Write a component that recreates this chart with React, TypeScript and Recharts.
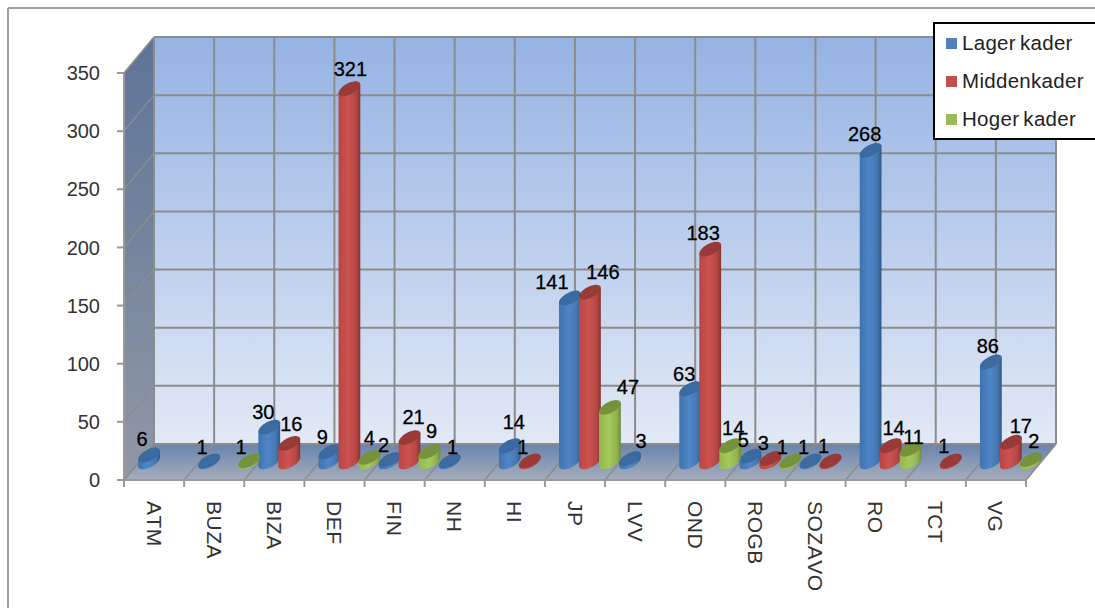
import { BarChart, Bar, XAxis, YAxis, Legend, LabelList } from 'recharts'

const categories = ['ATM', 'BUZA', 'BIZA', 'DEF', 'FIN', 'NH', 'HI', 'JP', 'LVV', 'OND', 'ROGB', 'SOZAVO', 'RO', 'TCT', 'VG']
const lagerKader = [6, 1, 30, 9, 2, 1, 14, 141, 3, 63, 5, 1, 268, null, 86]
const middenKader = [null, null, 16, 321, 21, null, 1, 146, null, 183, 3, 1, 14, 1, 17]
const hogerKader = [null, 1, null, 4, 9, null, null, 47, null, 14, 1, null, 11, null, 2]
const yTicks = [0, 50, 100, 150, 200, 250, 300, 350]

const chartData = categories.map((name, i) => ({
  name,
  'Lager kader': lagerKader[i],
  Middenkader: middenKader[i],
  'Hoger kader': hogerKader[i],
}))

// hand placed data labels, excel moved these around to avoid overlaps
const lagerNudge = [[-7, 0], [-7, 2], [-6, 1], [-7, 1], [-6, 1], [3, 2], [4, -8], [-18, 0], [11, -2], [-6, 1], [-7, 0], [-7, 2], [-6, 0], [0, 0], [-3, 0]]
const middenNudge = [[0, 0], [0, 0], [2, -3], [1, -4], [4, -5], [0, 0], [-7, 2], [13, -4], [0, 0], [-7, 0], [-7, 0], [-7, 1], [3, -2], [-7, 1], [10, 0]]
const hogerNudge = [[0, 0], [-8, 2], [0, 0], [0, -3], [2, -5], [0, 0], [0, 0], [18, -4], [0, 0], [3, -2], [-8, 2], [0, 0], [3, 4], [0, 0], [3, -3]]

const WIDTH = 1095
const HEIGHT = 608
const LEFT = 124
const TOP = 73
const RIGHT = 1026
const BOTTOM = 480
const DEPTH_X = 30
const DEPTH_Y = 36
const FONT = '"Liberation Sans", Arial, sans-serif'
const GRID = '#8c8c8c'

const yOf = (v: number) => BOTTOM - (v / 350) * (BOTTOM - TOP)
const step = (RIGHT - LEFT) / categories.length

function Backdrop() {
  const columns = [...categories.map((_, i) => i), categories.length]
  return (
    <g>
      <defs>
        <linearGradient id="backWall" x1="0" y1="0" x2="0" y2="1">
          <stop offset="0%" stopColor="#95b3e3" />
          <stop offset="100%" stopColor="#e2e9f6" />
        </linearGradient>
        <linearGradient id="sideWall" x1="0" y1="0" x2="0" y2="1">
          <stop offset="0%" stopColor="#5d7397" />
          <stop offset="100%" stopColor="#9198a6" />
        </linearGradient>
        <linearGradient id="floor" x1="0" y1="0" x2="0" y2="1">
          <stop offset="0%" stopColor="#6884ae" />
          <stop offset="100%" stopColor="#a6adbb" />
        </linearGradient>
        <linearGradient id="body-blue" x1="0" y1="0" x2="1" y2="0">
          <stop offset="0%" stopColor="#3f73ae" />
          <stop offset="45%" stopColor="#4f86c8" />
          <stop offset="80%" stopColor="#4677b0" />
          <stop offset="100%" stopColor="#2f5988" />
        </linearGradient>
        <linearGradient id="body-red" x1="0" y1="0" x2="1" y2="0">
          <stop offset="0%" stopColor="#b84644" />
          <stop offset="45%" stopColor="#cc5350" />
          <stop offset="80%" stopColor="#b64745" />
          <stop offset="100%" stopColor="#853331" />
        </linearGradient>
        <linearGradient id="body-green" x1="0" y1="0" x2="1" y2="0">
          <stop offset="0%" stopColor="#94b64e" />
          <stop offset="45%" stopColor="#a5c95c" />
          <stop offset="80%" stopColor="#93b550" />
          <stop offset="100%" stopColor="#6e8a38" />
        </linearGradient>
      </defs>

      <line x1={8} y1={8} x2={WIDTH} y2={8} stroke="#a0a0a0" strokeWidth={2} />
      <line x1={8} y1={8} x2={8} y2={HEIGHT} stroke="#a0a0a0" strokeWidth={2} />

      <polygon points={`${LEFT},${TOP} ${LEFT + DEPTH_X},${TOP - DEPTH_Y} ${LEFT + DEPTH_X},${BOTTOM - DEPTH_Y} ${LEFT},${BOTTOM}`} fill="url(#sideWall)" />
      <rect x={LEFT + DEPTH_X} y={TOP - DEPTH_Y} width={RIGHT - LEFT} height={BOTTOM - TOP} fill="url(#backWall)" />
      <polygon points={`${LEFT},${BOTTOM} ${RIGHT},${BOTTOM} ${RIGHT + DEPTH_X},${BOTTOM - DEPTH_Y} ${LEFT + DEPTH_X},${BOTTOM - DEPTH_Y}`} fill="url(#floor)" />

      {yTicks.map((t) => (
        <g key={t} stroke={GRID}>
          <line x1={LEFT} y1={yOf(t)} x2={LEFT + DEPTH_X} y2={yOf(t) - DEPTH_Y} strokeWidth={1.5} />
          <line x1={LEFT + DEPTH_X} y1={yOf(t) - DEPTH_Y} x2={RIGHT + DEPTH_X} y2={yOf(t) - DEPTH_Y} strokeWidth={2} />
        </g>
      ))}
      {columns.map((i) => {
        const x = LEFT + i * step
        return (
          <g key={i} stroke={GRID}>
            <line x1={x + DEPTH_X} y1={TOP - DEPTH_Y} x2={x + DEPTH_X} y2={BOTTOM - DEPTH_Y} strokeWidth={2} />
            <line x1={x} y1={BOTTOM} x2={x + DEPTH_X} y2={BOTTOM - DEPTH_Y} strokeWidth={1.5} />
            <line x1={x} y1={BOTTOM} x2={x} y2={BOTTOM + 7} strokeWidth={2} stroke="#999" />
          </g>
        )
      })}
    </g>
  )
}

// tilted cylinder standing on the middle of the floor
const makeCylinder = (key: string, gradient: string, topColor: string) => (props: any) => {
  const { x, y, width, height, payload } = props
  if (payload[key] == null) return <g />
  const cx = x + width / 2 + DEPTH_X / 2
  const yBase = y + height - DEPTH_Y / 2
  const yTop = y - DEPTH_Y / 2
  const hw = 10.9
  const d = 4.3
  const arc = 'A12 5.5 -28 0 0'
  const body = `M${cx - hw} ${yTop + d} L${cx - hw} ${yBase + d} ${arc} ${cx + hw} ${yBase - d} L${cx + hw} ${yTop - d} Z`
  return (
    <g>
      <path d={body} fill={`url(#${gradient})`} />
      <ellipse cx={cx} cy={yTop} rx={12} ry={5.5} transform={`rotate(-28 ${cx} ${yTop})`} fill={topColor} />
    </g>
  )
}

// LabelList skips the empty bars, so its index only counts the filled ones
const makeLabel = (values: (number | null)[], nudge: number[][]) => {
  const filled = nudge.filter((_, i) => values[i] != null)
  return (props: any) => {
    const { x, y, width, value, index } = props
    if (value == null) return <g />
    const [dx, dy] = filled[index]
    return (
      <text
        x={x + width / 2 + DEPTH_X / 2 + dx}
        y={y - DEPTH_Y / 2 - 16 + dy}
        textAnchor="middle"
        dominantBaseline="central"
        fontFamily={FONT}
        fontSize={20}
        fill="#000"
        stroke="#000"
        strokeWidth={0.3}
      >
        {value}
      </text>
    )
  }
}

function CategoryTick({ x, y, payload }: any) {
  return (
    <text
      transform={`translate(${x}, ${y}) rotate(90)`}
      dominantBaseline="central"
      fontFamily={FONT}
      fontSize={21}
      letterSpacing={0.5}
      style={{ fontKerning: 'none' }}
      fill="#333"
    >
      {payload.value}
    </text>
  )
}

function LegendBox({ payload }: any) {
  return (
    <div style={{ boxSizing: 'border-box', width: 170, height: 118, background: '#fff', border: '2.5px solid #000', paddingLeft: 11 }}>
      {payload?.map((entry: any) => (
        <div key={entry.value} style={{ display: 'flex', alignItems: 'center', height: 38.2 }}>
          <div style={{ width: 11, height: 11, background: entry.color, marginRight: 5 }} />
          <span style={{ fontFamily: FONT, fontSize: 20.5, color: '#222', letterSpacing: 0.3, wordSpacing: -2 }}>{entry.value}</span>
        </div>
      ))}
    </div>
  )
}

export default function App() {
  return (
    <div style={{ position: 'fixed', left: 0, top: 0, width: WIDTH, height: HEIGHT, overflow: 'hidden', background: '#fff' }}>
      <BarChart
        width={WIDTH}
        height={HEIGHT}
        data={chartData}
        margin={{ left: LEFT - 60, top: TOP, right: WIDTH - RIGHT, bottom: HEIGHT - BOTTOM - 60 }}
        barCategoryGap={0}
        barGap={0}
      >
        <Backdrop />
        <XAxis
          dataKey="name"
          interval={0}
          height={60}
          tickLine={false}
          axisLine={{ stroke: '#999', strokeWidth: 2 }}
          tick={<CategoryTick />}
          tickMargin={15}
        />
        <YAxis
          width={60}
          domain={[0, 350]}
          ticks={yTicks}
          tickSize={7}
          tickMargin={17}
          tickLine={{ stroke: '#999', strokeWidth: 2 }}
          axisLine={{ stroke: '#999', strokeWidth: 2 }}
          tick={{ fontSize: 20, fontFamily: FONT, fill: '#333' }}
        />
        <Legend
          layout="horizontal"
          verticalAlign="middle"
          itemSorter={null}
          content={<LegendBox />}
          wrapperStyle={{ left: 933, top: 22, width: 170, height: 118 }}
        />
        <Bar dataKey="Lager kader" fill="#4f81bd" isAnimationActive={false} shape={makeCylinder('Lager kader', 'body-blue', '#3a6a9f')}>
          <LabelList dataKey="Lager kader" content={makeLabel(lagerKader, lagerNudge)} />
        </Bar>
        <Bar dataKey="Middenkader" fill="#c0504d" isAnimationActive={false} shape={makeCylinder('Middenkader', 'body-red', '#983a37')}>
          <LabelList dataKey="Middenkader" content={makeLabel(middenKader, middenNudge)} />
        </Bar>
        <Bar dataKey="Hoger kader" fill="#9bbb59" isAnimationActive={false} shape={makeCylinder('Hoger kader', 'body-green', '#76923c')}>
          <LabelList dataKey="Hoger kader" content={makeLabel(hogerKader, hogerNudge)} />
        </Bar>
      </BarChart>
    </div>
  )
}
